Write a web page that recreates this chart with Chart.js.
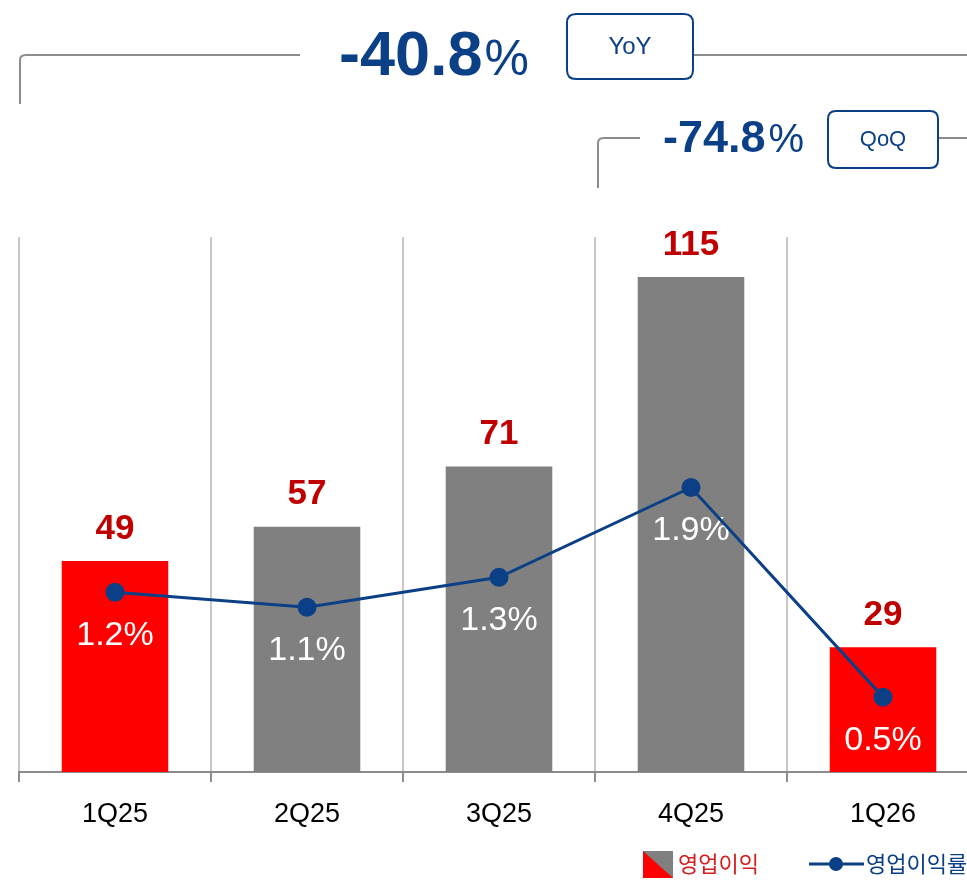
<!DOCTYPE html>
<html lang="ko">
<head>
<meta charset="utf-8">
<title>영업이익</title>
<script src="https://cdn.jsdelivr.net/npm/chart.js@4"></script>
<style>
  html, body { margin: 0; padding: 0; background: #fff; overflow: hidden; }
  #wrap { width: 990px; height: 880px; }
</style>
</head>
<body>
<div id="wrap"><canvas id="chart" width="990" height="880"></canvas></div>
<script>
'use strict';

// data
const quarters  = ['1Q25', '2Q25', '3Q25', '4Q25', '1Q26'];
const opProfit  = [49, 57, 71, 115, 29];          // 영업이익
const opMargin  = [1.2, 1.1, 1.3, 1.9, 0.5];      // 영업이익률 (%)
const marginTxt = ['1.2%', '1.1%', '1.3%', '1.9%', '0.5%'];
const yoyText   = '-40.8';
const qoqText   = '-74.8';
const seriesNames = ['영업이익', '영업이익률'];

const RED   = '#ff0000';
const GRAY  = '#808080';
const NAVY  = '#0b3f86';
const DARKRED = '#c00000';
const LINEGRAY = '#8c8c8c';
const SANS = "'Liberation Sans', Arial, sans-serif";
const KR   = "'Noto Sans CJK KR', sans-serif";

const barColors = quarters.map((q, i) => (i === 0 || i === quarters.length - 1) ? RED : GRAY);

function roundRect(ctx, x, y, w, h, r) {
  ctx.beginPath();
  ctx.moveTo(x + r, y);
  ctx.lineTo(x + w - r, y);
  ctx.quadraticCurveTo(x + w, y, x + w, y + r);
  ctx.lineTo(x + w, y + h - r);
  ctx.quadraticCurveTo(x + w, y + h, x + w - r, y + h);
  ctx.lineTo(x + r, y + h);
  ctx.quadraticCurveTo(x, y + h, x, y + h - r);
  ctx.lineTo(x, y + r);
  ctx.quadraticCurveTo(x, y, x + r, y);
  ctx.closePath();
}

function bigPct(ctx, txt, x, yBase, size, pctSize, gap) {
  ctx.save();
  ctx.fillStyle = NAVY;
  ctx.textAlign = 'left';
  ctx.textBaseline = 'alphabetic';
  ctx.font = `bold ${size}px ${SANS}`;
  ctx.fillText(txt, x, yBase);
  const w = ctx.measureText(txt).width;
  ctx.font = `${pctSize}px ${SANS}`;
  ctx.fillText('%', x + w + gap, yBase);
  ctx.restore();
}

const labelsPlugin = {
  id: 'labels',
  // bars are drawn first, so labels go in before the line
  afterDatasetDraw(chart, args) {
    if (args.index !== 1) return;
    const ctx = chart.ctx;
    const barMeta  = chart.getDatasetMeta(1);
    const lineMeta = chart.getDatasetMeta(0);
    ctx.save();
    ctx.textAlign = 'center';
    ctx.textBaseline = 'middle';
    ctx.font = `bold 35px ${SANS}`;
    ctx.fillStyle = DARKRED;
    barMeta.data.forEach((bar, i) => {
      ctx.fillText(String(opProfit[i]), bar.x, bar.y - 32);
    });
    ctx.font = `34px ${SANS}`;
    ctx.fillStyle = '#ffffff';
    lineMeta.data.forEach((pt, i) => {
      ctx.fillText(marginTxt[i], pt.x, pt.y + 43);
    });
    ctx.restore();
  },
  afterDraw(chart) {
    const ctx = chart.ctx;
    ctx.save();
    ctx.strokeStyle = LINEGRAY;
    ctx.lineWidth = 2;

    // YoY bracket
    ctx.beginPath();
    ctx.moveTo(20, 104);
    ctx.lineTo(20, 60);
    ctx.quadraticCurveTo(20, 55, 26, 55);
    ctx.lineTo(300, 55);
    ctx.moveTo(694, 55);
    ctx.lineTo(990, 55);
    ctx.stroke();

    // QoQ bracket
    ctx.beginPath();
    ctx.moveTo(598, 188);
    ctx.lineTo(598, 143);
    ctx.quadraticCurveTo(598, 138, 604, 138);
    ctx.lineTo(640, 138);
    ctx.moveTo(939, 138);
    ctx.lineTo(990, 138);
    ctx.stroke();

    // boxes
    ctx.strokeStyle = NAVY;
    ctx.fillStyle = '#ffffff';
    roundRect(ctx, 567, 14, 126, 65, 9);
    ctx.fill(); ctx.stroke();
    roundRect(ctx, 828, 111, 110, 57, 8);
    ctx.fill(); ctx.stroke();

    ctx.fillStyle = NAVY;
    ctx.textAlign = 'center';
    ctx.textBaseline = 'middle';
    ctx.font = `24px ${SANS}`;
    ctx.fillText('YoY', 630, 47);
    ctx.font = `22px ${SANS}`;
    ctx.fillText('QoQ', 883, 140);

    bigPct(ctx, yoyText, 339, 75, 63, 50, 2);
    bigPct(ctx, qoqText, 663, 152, 45, 40, 3);

    // legend
    ctx.fillStyle = GRAY;
    ctx.fillRect(643, 851, 30, 27);
    ctx.fillStyle = RED;
    ctx.beginPath();
    ctx.moveTo(643, 851);
    ctx.lineTo(673, 878);
    ctx.lineTo(643, 878);
    ctx.closePath();
    ctx.fill();
    ctx.textAlign = 'left';
    ctx.font = `22px ${KR}`;
    ctx.fillStyle = '#d42020';
    ctx.fillText(seriesNames[0], 678, 864);

    ctx.strokeStyle = NAVY;
    ctx.lineWidth = 3;
    ctx.beginPath();
    ctx.moveTo(809, 864);
    ctx.lineTo(864, 864);
    ctx.stroke();
    ctx.fillStyle = NAVY;
    ctx.beginPath();
    ctx.arc(836, 864, 7, 0, Math.PI * 2);
    ctx.fill();
    ctx.fillText(seriesNames[1], 866, 864);
    ctx.restore();
  }
};

new Chart(document.getElementById('chart'), {
  data: {
    labels: quarters,
    datasets: [
      {
        type: 'line',
        label: seriesNames[1],
        data: opMargin,
        yAxisID: 'y2',
        borderColor: NAVY,
        borderWidth: 3,
        pointRadius: 8,
        pointBackgroundColor: NAVY,
        pointBorderColor: NAVY,
        tension: 0,
        order: 1
      },
      {
        type: 'bar',
        label: seriesNames[0],
        data: opProfit,
        yAxisID: 'y',
        backgroundColor: barColors,
        barPercentage: 0.555,
        categoryPercentage: 1,
        order: 2
      }
    ]
  },
  options: {
    responsive: false,
    animation: false,
    devicePixelRatio: 1,
    layout: { padding: { left: 19, right: 1, top: 237, bottom: 0 } },
    plugins: { legend: { display: false }, tooltip: { enabled: false } },
    scales: {
      x: {
        offset: true,
        grid: {
          offset: true,
          color: '#c8c8c8',
          lineWidth: 2,
          tickColor: LINEGRAY,
          tickLength: 10
        },
        border: { display: true, color: LINEGRAY, width: 2 },
        ticks: { color: '#000', font: { family: SANS, size: 27 }, padding: 16 },
        afterFit(scale) { scale.height = 108; }
      },
      y:  { display: false, min: 0, max: 124.3 },
      y2: { display: false, min: 0, max: 3.573 }
    }
  },
  plugins: [labelsPlugin]
});
</script>
</body>
</html>
